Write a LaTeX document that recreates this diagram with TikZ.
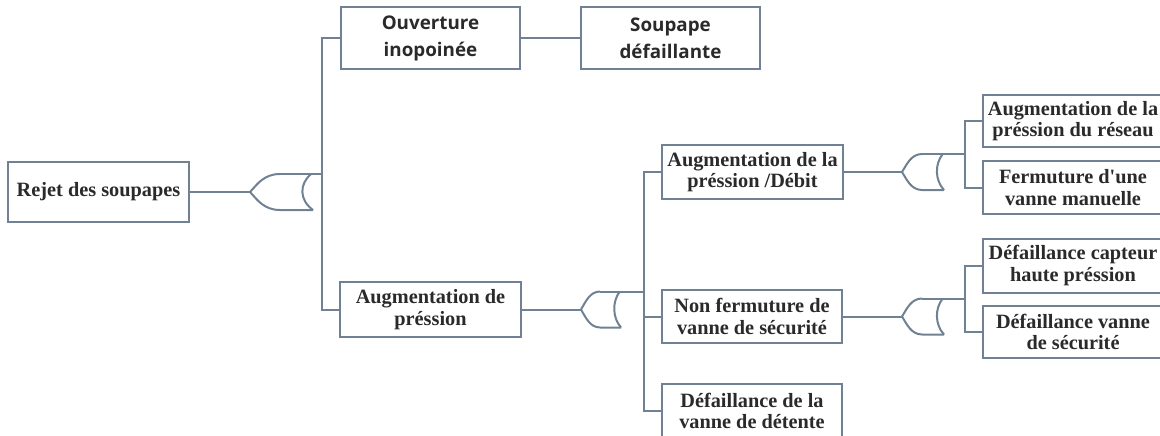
\documentclass[tikz,border=0pt]{standalone}
\usepackage{fontspec}
\setmainfont[Ligatures=TeXOff]{Liberation Serif}
\newfontfamily\labelsans{Open Sans}
\definecolor{wire}{HTML}{6F8193}
\definecolor{ink}{HTML}{2A2A2A}
\begin{document}
\begin{tikzpicture}[x=1pt,y=-1pt,
  wirestyle/.style={draw=wire,line width=2pt,line join=miter},
  eventbox/.style={wirestyle,fill=white,text=ink,align=center,inner sep=0pt,
    font=\fontsize{20.3}{21.6}\selectfont\bfseries},
  sansbox/.style={eventbox,font=\fontsize{18.8}{27}\selectfont\labelsans\bfseries},
  ]
\useasboundingbox (0,0) rectangle (1160,436);

% OR gate facing left: tip at (#1,#2), body width #3
\newcommand\orgate[3]{%
  \draw[wirestyle] (#1+#3*0.48,#2-18) .. controls (#1+#3*0.22,#2-18) and (#1+#3*0.12,#2-8) .. (#1,#2)
        .. controls (#1+#3*0.12,#2+8) and (#1+#3*0.22,#2+18) .. (#1+#3*0.48,#2+18)
        -- (#1+#3,#2+18);
  \draw[wirestyle] (#1+#3*0.97,#2-18) .. controls (#1+#3*0.78,#2-8) and (#1+#3*0.78,#2+8) .. (#1+#3,#2+18);
}

% events
\node[eventbox,minimum width=181,minimum height=60] (rejet) at (98.5,192) {Rejet des soupapes};
\node[sansbox,minimum width=179,minimum height=62] (ouv) at (430.5,38.5) {Ouverture\\inopoinée};
\node[sansbox,minimum width=179,minimum height=62] (soup) at (670.5,38.5) {Soupape\\défaillante};
\node[eventbox,minimum width=181,minimum height=55] (augp) at (430.5,309.5) {Augmentation de\\préssion};
\node[eventbox,minimum width=181,minimum height=54] (augd) at (752.5,172) {Augmentation de la\\préssion /Débit};
\node[eventbox,minimum width=180,minimum height=53] (nonf) at (752,316.5) {Non fermuture de\\vanne de sécurité};
\node[eventbox,minimum width=180,minimum height=54] (defd) at (752,411) {Défaillance de la\\vanne de détente};
\node[eventbox,minimum width=180,minimum height=52] (augr) at (1073,121) {Augmentation de la\\préssion du réseau};
\node[eventbox,minimum width=180,minimum height=53] (ferm) at (1073,187.5) {Fermuture d'une\\vanne manuelle};
\node[eventbox,minimum width=180,minimum height=54] (defc) at (1073,265.5) {Défaillance capteur\\haute préssion};
\node[eventbox,minimum width=180,minimum height=52] (defv) at (1073,332) {Défaillance vanne\\de sécurité};

% gate tips and bus junctions
\coordinate (g1) at (250,192);   \coordinate (b1) at (322,174);
\coordinate (g2) at (581,309.5); \coordinate (b2) at (644,291.5);
\coordinate (g3) at (902,172);   \coordinate (b3) at (965,154);
\coordinate (g4) at (902,316.5); \coordinate (b4) at (965,298.5);

% gates
\orgate{250}{192}{63}
\orgate{581}{309.5}{40}
\orgate{902}{172}{42}
\orgate{902}{316.5}{42}

% connectors
\draw[wirestyle] (rejet.east) -- (g1);
\draw[wirestyle] (ouv.east) -- (soup.west);
\draw[wirestyle] (g1 |- b1) ++(30,0) -- (b1);
\draw[wirestyle] (ouv.west) -| (b1) |- (augp.west);

\draw[wirestyle] (augp.east) -- (g2);
\draw[wirestyle] (g2 |- b2) ++(19,0) -- (b2);
\draw[wirestyle] (augd.west) -| (b2) |- (defd.west);
\draw[wirestyle] (nonf.west) -- (nonf.west -| b2);

\draw[wirestyle] (augd.east) -- (g3);
\draw[wirestyle] (g3 |- b3) ++(20,0) -- (b3);
\draw[wirestyle] (augr.west) -| (b3) |- (ferm.west);

\draw[wirestyle] (nonf.east) -- (g4);
\draw[wirestyle] (g4 |- b4) ++(20,0) -- (b4);
\draw[wirestyle] (defc.west) -| (b4) |- (defv.west);
\end{tikzpicture}
\end{document}
